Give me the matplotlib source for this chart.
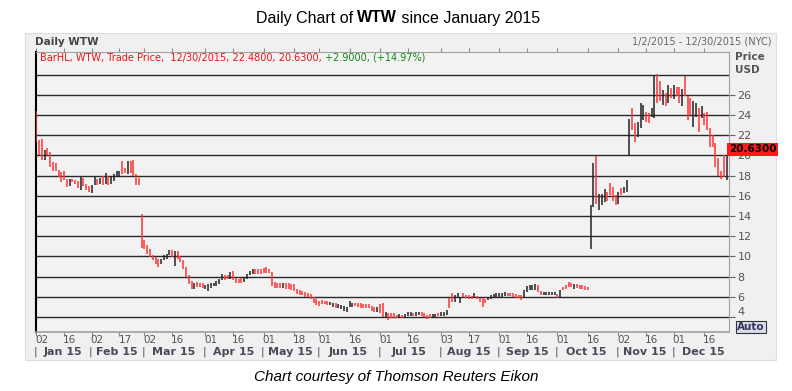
import numpy as np
import pandas as pd
import matplotlib
matplotlib.use('Agg')
import matplotlib.pyplot as plt
from matplotlib.patches import Rectangle
from matplotlib.transforms import blended_transform_factory

# trading calendar 2015 (NYSE holidays removed)
holidays = ['2015-01-01', '2015-01-19', '2015-02-16', '2015-04-03', '2015-05-25',
            '2015-07-03', '2015-09-07', '2015-11-26', '2015-12-25']
days = pd.bdate_range('2015-01-02', '2015-12-31')
days = days[~days.isin(pd.to_datetime(holidays))]

# daily high / low, up = black bar, 0 = red bar
hi = [24.4, 21.5, 21.6, 20.5, 20.7, 20.35, 19.3, 19.2, 18.55, 18.4,
      18.5, 17.7, 17.7, 17.7, 17.6, 17.5, 17.9, 17.75, 17.2, 17.0,
      17.1, 17.9, 17.7, 17.75, 18.0, 18.3, 18.0, 18.0, 18.2, 18.5,
      18.5, 19.4, 18.8, 19.4, 19.4, 19.5, 18.2, 17.75, 14.2, 11.6,
      11.15, 10.75, 10.15, 9.9, 9.7, 9.75, 10.1, 10.25, 10.6, 10.6,
      10.5, 10.5, 10.0, 9.6, 8.9, 8.1, 7.6, 7.4, 7.5, 7.4,
      7.4, 7.15, 7.25, 7.35, 7.4, 7.6, 7.75, 8.25, 8.15, 8.15,
      8.4, 8.5, 7.9, 7.8, 7.9, 8.0, 8.25, 8.5, 8.75, 8.75,
      8.75, 8.7, 8.8, 8.9, 8.7, 8.4, 7.5, 7.4, 7.4, 7.4,
      7.35, 7.35, 7.25, 7.25, 6.75, 6.7, 6.6, 6.5, 6.35, 6.25,
      6.0, 5.75, 5.6, 5.65, 5.6, 5.6, 5.5, 5.4, 5.35, 5.25,
      5.15, 5.1, 4.95, 5.6, 5.4, 5.4, 5.4, 5.35, 5.3, 5.25,
      5.25, 5.1, 4.95, 4.95, 5.3, 5.35, 4.5, 4.4, 4.4, 4.35,
      4.2, 4.25, 4.2, 4.25, 4.45, 4.45, 4.35, 4.45, 4.5, 4.45,
      4.35, 4.2, 4.25, 4.25, 4.3, 4.35, 4.45, 4.45, 4.7, 5.85,
      6.35, 6.15, 6.35, 6.0, 6.4, 6.15, 6.15, 6.1, 6.35, 6.1,
      5.85, 5.85, 5.75, 6.0, 6.15, 6.25, 6.35, 6.35, 6.4, 6.5,
      6.4, 6.35, 6.4, 6.25, 6.15, 6.15, 6.65, 7.05, 7.15, 7.15,
      7.25, 7.15, 6.6, 6.5, 6.5, 6.5, 6.5, 6.5, 6.25, 6.65,
      7.0, 7.15, 7.45, 7.35, 7.25, 7.25, 7.15, 7.15, 7.05, 7.0,
      15.05, 19.2, 19.9, 16.2, 16.2, 16.7, 16.4, 17.3, 16.9, 16.05,
      16.4, 16.8, 16.9, 17.55, 23.6, 24.7, 23.2, 23.35, 25.2, 25.0,
      24.35, 24.2, 24.7, 27.85, 28.1, 27.35, 26.5, 26.2, 27.0, 26.65,
      27.0, 26.8, 26.8, 26.55, 27.85, 25.85, 25.65, 25.35, 25.2, 24.7,
      24.85, 24.2, 24.35, 22.7, 22.0, 21.2, 19.7, 18.5, 20.0, 20.0]
lo = [21.3, 20.0, 19.5, 19.5, 20.0, 18.9, 18.5, 18.5, 17.9, 17.4,
      17.6, 16.9, 17.0, 17.4, 17.2, 16.8, 16.6, 17.0, 16.55, 16.4,
      16.3, 17.1, 17.1, 17.2, 17.1, 17.2, 17.1, 17.2, 17.5, 18.0,
      17.9, 18.2, 18.3, 18.2, 18.3, 18.0, 17.1, 17.1, 10.8, 10.75,
      10.25, 9.9, 9.6, 9.25, 8.9, 9.25, 9.6, 9.7, 10.1, 9.9,
      9.0, 9.7, 9.4, 8.75, 8.0, 7.25, 6.8, 6.8, 7.0, 7.0,
      6.9, 6.8, 6.6, 6.9, 7.1, 7.1, 7.25, 7.7, 7.7, 7.75,
      7.75, 7.7, 7.4, 7.4, 7.4, 7.5, 7.8, 8.1, 8.25, 8.25,
      8.25, 8.25, 8.35, 8.35, 8.3, 7.1, 6.9, 6.9, 6.9, 6.9,
      6.8, 6.75, 6.7, 6.6, 6.25, 6.15, 6.15, 6.0, 5.95, 5.75,
      5.35, 5.15, 5.1, 5.25, 5.25, 5.15, 5.15, 5.0, 4.9, 4.85,
      4.75, 4.6, 4.5, 5.0, 5.0, 5.1, 5.0, 4.9, 4.9, 4.85,
      4.85, 4.6, 4.45, 4.5, 4.35, 4.0, 3.9, 3.7, 3.85, 3.85,
      3.85, 3.85, 3.85, 3.95, 4.05, 4.05, 4.05, 4.1, 4.2, 4.1,
      3.95, 3.8, 3.85, 3.85, 3.95, 4.05, 4.05, 4.1, 4.2, 4.85,
      5.5, 5.5, 5.85, 5.35, 6.0, 5.85, 5.75, 5.75, 5.85, 5.75,
      5.5, 5.0, 5.35, 5.7, 5.75, 5.85, 5.9, 6.0, 6.0, 6.05,
      6.05, 6.05, 6.0, 5.85, 5.85, 5.65, 6.0, 6.5, 6.65, 6.7,
      6.7, 6.5, 6.15, 6.15, 6.15, 6.15, 6.15, 6.15, 5.85, 6.0,
      6.65, 6.8, 7.0, 6.95, 6.8, 6.9, 6.8, 6.8, 6.7, 6.65,
      10.7, 14.9, 15.2, 14.55, 15.05, 15.4, 15.5, 16.05, 15.5, 15.05,
      15.2, 16.05, 16.3, 16.4, 20.0, 22.5, 21.35, 21.85, 22.7, 23.5,
      23.35, 23.2, 23.85, 23.7, 25.2, 25.35, 25.0, 24.9, 25.2, 25.7,
      25.6, 25.85, 25.2, 24.85, 25.85, 23.5, 24.0, 22.85, 23.85, 22.35,
      23.7, 23.0, 22.5, 20.85, 20.85, 18.85, 18.0, 17.7, 17.85, 17.6]
up = [0, 0, 0, 1, 0, 0, 0, 0, 0, 0,
      0, 0, 1, 0, 0, 0, 1, 0, 0, 0,
      1, 1, 0, 1, 0, 1, 0, 1, 1, 1,
      1, 0, 0, 1, 0, 0, 0, 0, 0, 0,
      0, 0, 0, 0, 0, 1, 1, 1, 1, 0,
      1, 0, 0, 0, 0, 0, 0, 1, 0, 0,
      0, 1, 1, 1, 1, 1, 1, 1, 0, 0,
      1, 0, 0, 0, 0, 1, 1, 1, 1, 0,
      0, 0, 0, 0, 0, 0, 0, 0, 0, 1,
      0, 0, 0, 0, 0, 0, 0, 0, 0, 0,
      0, 0, 0, 0, 0, 0, 1, 1, 0, 1,
      1, 1, 1, 1, 1, 0, 0, 0, 0, 0,
      0, 0, 0, 1, 0, 0, 1, 0, 0, 0,
      0, 1, 0, 1, 1, 1, 0, 1, 1, 0,
      0, 0, 0, 1, 1, 0, 1, 1, 1, 0,
      0, 1, 1, 1, 0, 0, 0, 0, 1, 0,
      0, 0, 0, 1, 1, 1, 1, 1, 1, 1,
      0, 0, 0, 0, 0, 0, 1, 1, 1, 1,
      1, 0, 0, 1, 1, 1, 1, 1, 0, 1,
      0, 0, 0, 0, 1, 0, 0, 0, 0, 0,
      1, 1, 0, 1, 1, 1, 0, 0, 0, 0,
      1, 0, 1, 1, 1, 0, 0, 1, 1, 1,
      0, 0, 1, 1, 0, 0, 1, 0, 1, 0,
      1, 0, 0, 1, 0, 0, 0, 1, 1, 0,
      1, 0, 0, 0, 0, 0, 0, 0, 0, 1]

last_price = 20.63
tick_dates = ['2015-01-02', '2015-01-16', '2015-02-02', '2015-02-17', '2015-03-02',
              '2015-03-16', '2015-04-01', '2015-04-16', '2015-05-01', '2015-05-18',
              '2015-06-01', '2015-06-16', '2015-07-01', '2015-07-16', '2015-08-03',
              '2015-08-17', '2015-09-01', '2015-09-16', '2015-10-01', '2015-10-16',
              '2015-11-02', '2015-11-16', '2015-12-01', '2015-12-16']
month_labels = ['Jan 15', 'Feb 15', 'Mar 15', 'Apr 15', 'May 15', 'Jun 15',
                'Jul 15', 'Aug 15', 'Sep 15', 'Oct 15', 'Nov 15', 'Dec 15']
price_ticks = [4, 6, 8, 10, 12, 14, 16, 18, 20, 22, 24, 26]
grid_levels = [4, 6, 8, 10, 12, 14, 16, 18, 20, 22, 24, 26, 28]

W, H = 792, 391
fig = plt.figure(figsize=(W / 100, H / 100), dpi=100)
fig.patch.set_facecolor('white')

def fx(px):
    return px / W

def fy(py):
    return 1 - py / H

# grey chart panel
fig.patches.append(Rectangle((fx(25), fy(360)), fx(751), 327 / H, transform=fig.transFigure,
                             facecolor='#f0f0f0', edgecolor='#dddddd', lw=0.8, zorder=-10))

ax = fig.add_axes([fx(35.5), fy(332), fx(729 - 35.5), (332 - 52) / H])
ax.set_facecolor('#f2f2f2')
ax.set_xlim(-0.3, 249.9)
ax.set_ylim(2.5, 30.25)

for g in grid_levels:
    ax.axhline(g, color='#2a2a2a', lw=1.0, zorder=1)

x = np.arange(len(hi))
colors = ['#222222' if u else '#ff3333' for u in up]
ax.vlines(x, lo, hi, colors=colors, lw=1.1, zorder=3)

# axes frame
for s in ['top', 'right', 'bottom']:
    ax.spines[s].set_color('#a0a0a0')
ax.spines['left'].set_color('black')
ax.spines['left'].set_linewidth(1.5)
ax.spines['bottom'].set_linewidth(1.2)

# price axis on the right
ax.yaxis.tick_right()
ax.set_yticks(price_ticks)
ax.set_yticklabels([str(p) for p in price_ticks])
ax.tick_params(axis='y', length=4, color='#666666', labelcolor='#555555', labelsize=8, pad=2)
# bottom label sits a little higher, like the original
ax.get_yticklabels()[0].set_verticalalignment('bottom')

# date axis
tick_idx = days.searchsorted(pd.to_datetime(tick_dates))
ax.set_xticks(tick_idx)
ax.set_xticklabels([])
ax.tick_params(axis='x', direction='out', length=3, color='#888888', top=True)

trans = blended_transform_factory(ax.transData, ax.transAxes)
for i, d in zip(tick_idx, tick_dates):
    ax.text(i + 2, -0.03, d[-2:], transform=trans, ha='center', va='center',
            fontsize=7.5, color='#555555')

month_starts = days.searchsorted(pd.date_range('2015-01-01', '2016-01-01', freq='MS'))
for k, m in enumerate(month_labels):
    a, b = month_starts[k], month_starts[k + 1]
    ax.text((a + b - 1) / 2, -0.072, m, transform=trans, ha='center', va='center',
            fontsize=8, fontweight='bold', color='#4a4a5a')
    ax.text(a - 0.3, -0.072, '|', transform=trans, ha='center', va='center',
            fontsize=8, color='#4a4a5a')

# last price marker
ax.text(1.0, last_price, '%.4f' % last_price, transform=blended_transform_factory(ax.transAxes, ax.transData),
        ha='left', va='center', fontsize=7.5, fontweight='bold', color='black',
        bbox=dict(boxstyle='square,pad=0.15', facecolor='#ff1a1a', edgecolor='none'), zorder=5)

def seq_text(x0, y0, parts, size, ha='left', **kw):
    # draw several text pieces next to each other (figure pixel coords)
    r = fig.canvas.get_renderer()
    items = []
    for txt, props in parts:
        t = fig.text(0, fy(y0), txt, fontsize=size, va='center', **props, **kw)
        items.append(t)
    widths = [t.get_window_extent(r).width for t in items]
    total = sum(widths)
    start = x0 - total / 2 if ha == 'center' else x0
    for t, w in zip(items, widths):
        t.set_x(fx(start))
        start += w

seq_text(398, 18, [('Daily Chart of ', {}), ('WTW', {'fontweight': 'bold'}),
                   (' since January 2015', {})], 11.5, ha='center', family='Liberation Sans')

seq_text(40, 58, [('BarHL, WTW, Trade Price,  12/30/2015, 22.4800, 20.6300, ', {'color': '#ee1111'}),
                  ('+2.9000, (+14.97%)', {'color': '#118811'})], 7, family='DejaVu Sans')

fig.text(fx(35), fy(42), 'Daily WTW', fontsize=7.5, fontweight='bold', color='#444444', va='center')
fig.text(fx(771), fy(42), '1/2/2015 - 12/30/2015 (NYC)', fontsize=7, color='#666666',
         va='center', ha='right')
fig.text(fx(735), fy(57), 'Price', fontsize=7.5, fontweight='bold', color='#555555', va='center')
fig.text(fx(735), fy(70), 'USD', fontsize=7.5, fontweight='bold', color='#555555', va='center')
fig.text(fx(737), fy(327), 'Auto', fontsize=7.5, fontweight='bold', color='#333355', va='center',
         bbox=dict(boxstyle='square,pad=0.1', facecolor='#dcdcf0', edgecolor='#333333', lw=0.8))

fig.text(0.5, fy(377), 'Chart courtesy of Thomson Reuters Eikon', fontsize=11, style='italic',
         ha='center', va='center', family='Liberation Sans')

fig.savefig('out.png', dpi=100)
